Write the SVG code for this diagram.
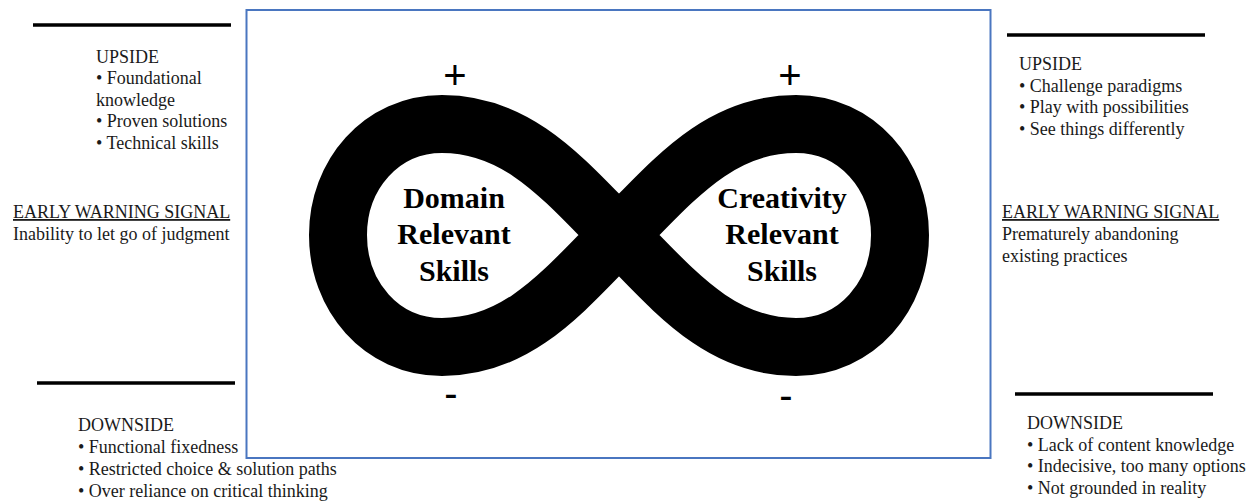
<svg xmlns="http://www.w3.org/2000/svg" width="1258" height="502" viewBox="0 0 1258 502">
  <style>
    .note { font-family: "Liberation Serif", "Times New Roman", serif; font-size: 18px; fill: #1a1a1a; }
    .head { text-decoration: underline; }
    .skill { font-family: "Liberation Serif", "Times New Roman", serif; font-size: 30px; font-weight: bold; fill: #000; text-anchor: middle; }
    .sign { font-family: "Liberation Sans", Arial, sans-serif; font-size: 40px; fill: #000; text-anchor: middle; }
    .rule { stroke: #000; stroke-width: 3.5; }
  </style>

  <!-- frame around the loop -->
  <rect id="frame" x="246.5" y="10" width="744" height="448" fill="#fff" stroke="#4a76c0" stroke-width="2"/>

  <!-- infinity band -->
  <g id="loop">
    <path d="M619,235 C566,182 520,124 442,124 C381,124 338,175 338,235 C338,296 381,347 442,347 C520,347 566,288 619,235 C672,182 718,124 796,124 C857,124 900,175 900,235 C900,296 857,347 796,347 C718,347 672,288 619,235 Z"
          fill="none" stroke="#000" stroke-width="58"/>
  </g>

  <g id="domain">
    <text class="skill" x="454" y="208">Domain</text>
    <text class="skill" x="454" y="244">Relevant</text>
    <text class="skill" x="454" y="281">Skills</text>
    <text class="sign" x="455" y="89">+</text>
    <text class="sign" x="451" y="407">-</text>
  </g>

  <g id="creativity">
    <text class="skill" x="782" y="208">Creativity</text>
    <text class="skill" x="782" y="244">Relevant</text>
    <text class="skill" x="782" y="281">Skills</text>
    <text class="sign" x="790" y="89">+</text>
    <text class="sign" x="786" y="409">-</text>
  </g>

  <!-- left column -->
  <g id="domain-upside">
    <line class="rule" x1="33" y1="25" x2="231" y2="25"/>
    <text class="note" x="96" y="63">UPSIDE</text>
    <text class="note" x="96" y="84">• Foundational</text>
    <text class="note" x="96" y="106">knowledge</text>
    <text class="note" x="96" y="127">• Proven solutions</text>
    <text class="note" x="96" y="149">• Technical skills</text>
  </g>
  <g id="domain-warning">
    <text class="note head" x="13" y="218">EARLY WARNING SIGNAL</text>
    <text class="note" x="13" y="240">Inability to let go of judgment</text>
  </g>
  <g id="domain-downside">
    <line class="rule" x1="37" y1="383" x2="235" y2="383"/>
    <text class="note" x="78" y="431">DOWNSIDE</text>
    <text class="note" x="78" y="453">• Functional fixedness</text>
    <text class="note" x="78" y="475">• Restricted choice &amp; solution paths</text>
    <text class="note" x="78" y="497">• Over reliance on critical thinking</text>
  </g>

  <!-- right column -->
  <g id="creativity-upside">
    <line class="rule" x1="1007" y1="35" x2="1205" y2="35"/>
    <text class="note" x="1019" y="70">UPSIDE</text>
    <text class="note" x="1019" y="92">• Challenge paradigms</text>
    <text class="note" x="1019" y="113">• Play with possibilities</text>
    <text class="note" x="1019" y="135">• See things differently</text>
  </g>
  <g id="creativity-warning">
    <text class="note head" x="1002" y="218">EARLY WARNING SIGNAL</text>
    <text class="note" x="1002" y="240">Prematurely abandoning</text>
    <text class="note" x="1002" y="262">existing practices</text>
  </g>
  <g id="creativity-downside">
    <line class="rule" x1="1015" y1="394" x2="1213" y2="394"/>
    <text class="note" x="1027" y="429">DOWNSIDE</text>
    <text class="note" x="1027" y="451">• Lack of content knowledge</text>
    <text class="note" x="1027" y="472">• Indecisive, too many options</text>
    <text class="note" x="1027" y="494">• Not grounded in reality</text>
  </g>
</svg>
